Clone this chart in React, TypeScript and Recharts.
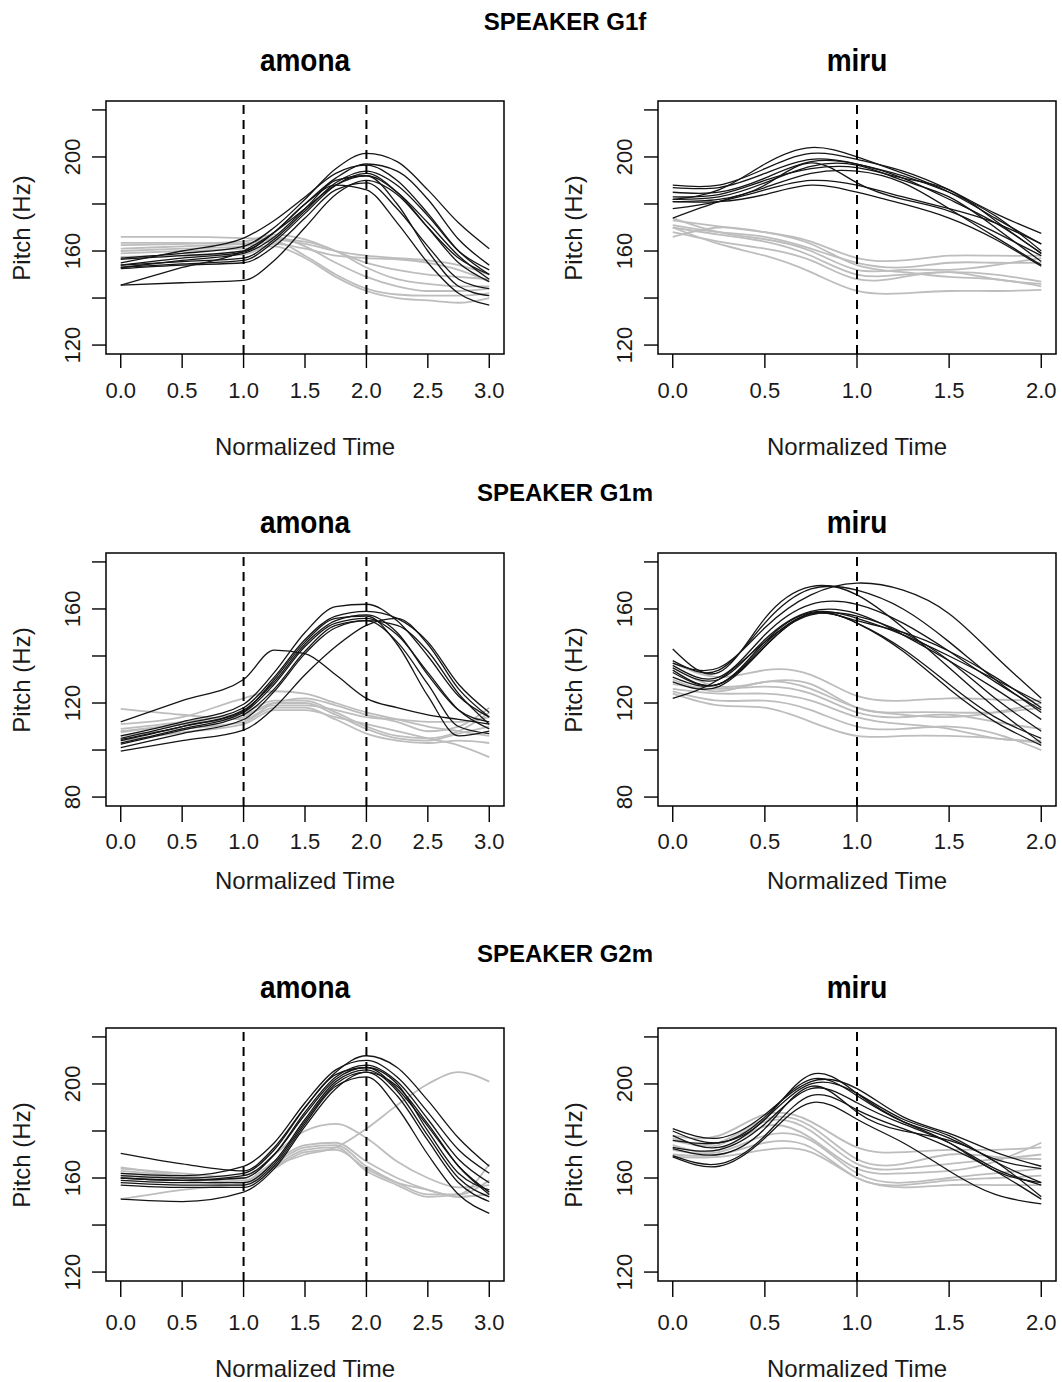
import React from 'react';
import {
  LineChart,
  Line,
  XAxis,
  YAxis,
  ReferenceLine,
  ReferenceArea,
} from 'recharts';

// time grids (normalized syllable time)
const AMONA_T = [0, 0.5, 1, 1.25, 1.5, 1.75, 2, 2.25, 2.5, 2.75, 3];
const MIRU_T = [0, 0.25, 0.5, 0.75, 1, 1.25, 1.5, 1.75, 2];

// ---- speaker G1f ----
const g1fAmonaDark = [
  [157, 159, 162, 170, 182, 195, 201.5, 198, 186, 172, 161],
  [156.5, 158, 160, 168, 180, 191, 197, 194, 182, 165, 154],
  [155, 160, 165.5, 173, 183, 193, 196.5, 190, 176, 160, 150],
  [154, 155.5, 157, 165, 177, 189, 194, 188, 175, 160, 152],
  [153, 154.5, 156, 164, 176, 188, 193, 185, 170, 155, 147],
  [153, 156, 159, 166, 178, 190, 192, 180, 160, 145, 141],
  [152.5, 154, 155, 162, 174, 186, 189, 178, 162, 148, 144],
  [154, 157, 159.5, 168, 180, 188, 186, 172, 155, 142, 137],
  [145.5, 146.5, 147.5, 156, 170, 184, 190, 184, 170, 157, 150],
  [145.5, 153, 160, 168, 178, 188, 192, 185, 172, 158, 148],
];
const g1fAmonaLight = [
  [166, 166, 165.5, 165, 163, 160, 158, 157, 156, 154, 150],
  [162.5, 163, 164, 167, 165, 160, 155, 152, 150, 149, 148],
  [161, 162, 163, 166, 162, 155, 149, 145, 143, 143, 144],
  [160, 161, 162, 164, 158, 150, 144, 141.5, 141, 141, 142],
  [159, 160, 161, 162, 157, 149, 143, 140, 139, 138, 140],
  [157.5, 158, 158.5, 163, 161, 158, 157, 156.5, 155, 152, 147],
  [163.5, 163.5, 163, 165, 164, 160, 153, 148, 146, 145, 145],
];
const g1fMiruDark = [
  [182, 186, 197, 204, 200, 193, 185, 174, 163],
  [188, 188, 195, 201.5, 199, 194, 186, 176, 167.5],
  [187, 187, 193, 199, 197, 192, 185, 175, 160],
  [185, 185, 191, 198, 197, 191, 182, 172, 159],
  [182, 183, 189, 196, 196.5, 190, 183, 170, 155.5],
  [181, 182, 188, 197.5, 189, 182, 177, 168, 158],
  [178, 181, 186, 190, 188, 183, 178, 172, 163],
  [181, 181, 184, 188, 185, 180, 174, 165, 153.5],
  [174, 181, 187, 193, 194, 189, 178, 166, 154],
  [183, 184, 190, 195, 195.5, 191, 186, 173, 159],
];
const g1fMiruLight = [
  [173, 170.5, 168, 164, 157, 156, 158, 158, 158],
  [171, 168, 166, 161, 155, 153, 155, 155, 155],
  [174, 168, 165, 160, 152, 152, 152, 154, 157],
  [170, 167, 164, 158, 150, 150, 151, 150, 147],
  [168, 164, 161, 156, 148, 149, 151, 148, 146],
  [166, 170, 168, 163, 154, 151, 149, 148, 145],
  [170, 163, 158, 151, 143, 142, 143, 143, 143.5],
];

// ---- speaker G1m ----
const g1mAmonaDark = [
  [112, 121, 130, 142.5, 141, 132, 122, 118, 115, 113, 111],
  [106, 112, 119.5, 133, 150, 161, 162, 155, 140, 123, 114],
  [105, 111, 118, 131, 147, 157, 159, 156, 146, 128, 116],
  [104, 110, 117, 129, 145, 155, 157.5, 150, 132, 117, 112],
  [103, 109, 116, 128, 144, 154, 156, 149, 133, 117, 109],
  [102.5, 108.5, 115, 126, 142, 153, 155, 153, 142, 124, 111],
  [101, 107, 113, 125, 141, 152, 155, 146, 128, 110, 107],
  [99.5, 104, 108.5, 118, 132, 144, 153, 156, 145, 126, 114],
  [104.5, 110, 116.5, 130, 146, 156, 157, 145, 123, 106, 108],
];
const g1mAmonaLight = [
  [117.5, 115, 113, 120, 122, 119, 115, 112, 108, 110, 118],
  [111, 114, 122, 125, 124, 120, 116, 113, 110, 108, 106],
  [109, 112, 116, 121, 121, 116, 110, 106, 105, 108, 116],
  [107.5, 111, 114, 120, 120, 115, 109, 105, 104, 107, 110],
  [106, 109, 112, 118, 118, 113, 107, 104, 103, 104, 103],
  [104, 107.5, 111, 117, 117, 114, 111, 108, 105, 102, 97],
  [108, 111, 115, 119, 119, 117, 114, 113, 112, 112, 114],
];
const g1mMiruDark = [
  [137, 135, 152, 166, 171, 168, 158, 140, 122],
  [143, 133, 156, 169.5, 166, 152, 135, 118, 103],
  [138, 134, 154, 168.5, 168, 160, 146, 130, 116],
  [136, 131, 149, 162, 162, 154, 142, 129, 117],
  [134, 128, 146, 158.5, 156, 149, 140, 130, 120],
  [133, 128, 145, 158, 155, 150, 142, 131, 118],
  [131, 128, 144, 158, 154, 143, 128, 114, 105],
  [129, 127, 144, 158, 154, 142, 126, 112, 102],
  [122, 130, 146, 157.5, 157, 150, 138, 122, 108],
  [135, 130, 147, 159, 158, 149, 138, 126, 113],
];
const g1mMiruLight = [
  [137, 131, 134, 132, 123, 121, 122, 121.5, 121],
  [135, 127, 129, 128, 118, 116, 116, 116, 118],
  [130, 125, 129, 126, 118, 115, 114, 116, 120],
  [128, 126, 127, 124, 116, 114, 115, 112, 109],
  [126, 124, 124, 121, 114, 111, 109, 105, 104],
  [125, 121, 121, 117, 110, 109, 110, 107, 100],
  [124, 119, 118, 112, 106, 106, 106, 105, 103],
];

// ---- speaker G2m ----
const g2mAmonaDark = [
  [170.5, 166, 163, 173, 190, 204, 207, 198, 182, 165, 154],
  [162, 161, 165, 175, 192, 206, 210, 203, 188, 172, 162],
  [161, 160, 162, 172, 190, 205, 212, 207, 193, 177, 165],
  [160, 159, 160, 170, 188, 203, 208, 201, 185, 168, 158],
  [159, 158, 158, 167, 185, 201, 206, 197, 178, 160, 152],
  [158, 157, 157, 166, 184, 200, 205, 195, 176, 158, 150],
  [157, 156, 156, 165, 183, 199, 203, 190, 170, 153, 145],
  [151, 150, 154, 164, 182, 198, 205, 199, 183, 165, 153],
  [160, 159, 161, 170, 187, 202, 207, 200, 180, 162, 155],
];
const g2mAmonaLight = [
  [151, 155, 158, 165, 170, 173, 181, 191, 200, 205, 201],
  [164, 162, 160, 170, 180, 183, 177, 167, 160, 156, 157],
  [163, 161, 159, 167, 174, 175, 167, 160, 155, 152, 153],
  [162, 160, 158, 166, 173, 174, 165, 158, 153, 153, 159],
  [164.5, 161, 158, 165, 172, 173, 163, 157, 152, 153, 166],
  [161, 159, 157, 164, 171, 172, 164, 158, 155, 152, 153],
];
const g2mMiruDark = [
  [181, 177, 187, 201, 198, 186, 179, 171, 165],
  [180, 175, 186, 202, 195, 184, 177, 168, 164],
  [178, 173, 185, 200, 196, 185, 178, 167, 158],
  [173, 172, 183, 198, 192, 183, 175, 164, 157],
  [172.5, 170, 181, 199, 188, 180, 176, 167, 152],
  [169.5, 166, 178, 195, 189, 181, 173, 163, 151],
  [169, 165, 177, 192, 185, 175, 163, 153, 149],
  [176, 175, 185, 204, 196, 184, 175, 163, 158],
];
const g2mMiruLight = [
  [178, 178, 187, 184, 173, 171, 172, 172, 173],
  [176, 175, 185, 182, 168, 166, 170, 169, 168],
  [177, 174, 184, 180, 166, 164, 166, 168, 170],
  [174, 172, 182, 177, 164, 162, 163, 167, 175],
  [172, 171, 178, 176, 162, 158, 160, 162, 164],
  [170, 170, 175, 173, 160, 157, 159, 160, 161],
  [169, 169, 172, 171, 160, 156, 157, 157, 157],
];

const AMONA_X_TICKS = [0, 0.5, 1, 1.5, 2, 2.5, 3];
const MIRU_X_TICKS = [0, 0.5, 1, 1.5, 2];
const HZ_TICKS_HIGH = [120, 140, 160, 180, 200, 220];
const HZ_LABELS_HIGH = [120, 160, 200];
const HZ_TICKS_LOW = [80, 100, 120, 140, 160, 180];
const HZ_LABELS_LOW = [80, 120, 160];

const FONT = "'Liberation Sans', Arial, Helvetica, sans-serif";
const BOX_W = 398;
const BOX_H = 253;
const Y_AXIS_W = 106;

const buildRows = (t: number[], dark: number[][], light: number[][]) =>
  t.map((tv, i) => {
    const row: Record<string, number> = { t: tv };
    dark.forEach((s, k) => (row[`d${k}`] = s[i]));
    light.forEach((s, k) => (row[`l${k}`] = s[i]));
    return row;
  });

const YTick = (props: any) => {
  const { x, y, payload, labeled } = props;
  if (!labeled.includes(payload.value)) return null;
  const bx = x - 12;
  return (
    <text
      x={bx}
      y={y}
      transform={`rotate(-90 ${bx} ${y})`}
      textAnchor="middle"
      fontSize={22}
      fill="#1a1a1a"
    >
      {payload.value}
    </text>
  );
};

interface PanelProps {
  left: number;
  boxTop: number;
  kind: 'amona' | 'miru';
  dark: number[][];
  light: number[][];
  yDomain: [number, number];
  yTicks: number[];
  yLabels: number[];
  tickSize: number;
  tickMargin: number;
}

const Panel: React.FC<PanelProps> = ({
  left,
  boxTop,
  kind,
  dark,
  light,
  yDomain,
  yTicks,
  yLabels,
  tickSize,
  tickMargin,
}) => {
  const isAmona = kind === 'amona';
  const t = isAmona ? AMONA_T : MIRU_T;
  const xDomain: [number, number] = isAmona ? [-0.12, 3.12] : [-0.08, 2.08];
  const refs = isAmona ? [1, 2] : [1];
  // amona contours are linear up to the accent, miru ones are smooth splines
  const curve = isAmona ? 'monotone' : 'natural';
  const data = buildRows(t, dark, light);
  const top = 10;

  return (
    <div style={{ position: 'absolute', left, top: boxTop - top }}>
      <LineChart
        width={Y_AXIS_W + BOX_W + 4}
        height={top + BOX_H + 70}
        data={data}
        margin={{ top, right: 4, bottom: 0, left: 0 }}
      >
        <XAxis
          dataKey="t"
          type="number"
          domain={xDomain}
          ticks={isAmona ? AMONA_X_TICKS : MIRU_X_TICKS}
          interval={0}
          allowDataOverflow
          height={70}
          tickSize={tickSize}
          tickMargin={tickMargin}
          axisLine={false}
          tickLine={{ stroke: '#000', strokeWidth: 1.4 }}
          tick={{ fontSize: 22, fill: '#1a1a1a' }}
          tickFormatter={(v: number) => v.toFixed(1)}
        />
        <YAxis
          type="number"
          domain={yDomain}
          ticks={yTicks}
          interval={0}
          allowDataOverflow
          width={Y_AXIS_W}
          tickSize={14}
          tickMargin={0}
          axisLine={false}
          tickLine={{ stroke: '#000', strokeWidth: 1.4 }}
          tick={(p: any) => <YTick {...p} labeled={yLabels} />}
        />
        {light.map((_, k) => (
          <Line
            key={`l${k}`}
            type={curve}
            dataKey={`l${k}`}
            stroke="#bdbdbd"
            strokeWidth={1.8}
            dot={false}
            isAnimationActive={false}
          />
        ))}
        {dark.map((_, k) => (
          <Line
            key={`d${k}`}
            type={curve}
            dataKey={`d${k}`}
            stroke="#151515"
            strokeWidth={1.3}
            dot={false}
            isAnimationActive={false}
          />
        ))}
        {refs.map((r) => (
          <ReferenceLine
            key={r}
            x={r}
            stroke="#000"
            strokeWidth={2}
            strokeDasharray="9 6"
          />
        ))}
        <ReferenceArea
          x1={xDomain[0]}
          x2={xDomain[1]}
          y1={yDomain[0]}
          y2={yDomain[1]}
          fill="none"
          stroke="#000"
          strokeWidth={1.5}
        />
      </LineChart>
    </div>
  );
};

const Label: React.FC<{
  x: number;
  y: number;
  size: number;
  bold?: boolean;
  rotate?: boolean;
  stretch?: number;
  children: React.ReactNode;
}> = ({ x, y, size, bold, rotate, stretch = 1, children }) => (
  <div
    style={{
      position: 'absolute',
      left: x,
      top: y,
      transform: `translate(-50%, -50%)${rotate ? ' rotate(-90deg)' : ''} scaleY(${stretch})`,
      fontSize: size,
      fontWeight: bold ? 700 : 400,
      lineHeight: 1,
      whiteSpace: 'nowrap',
      color: bold ? '#000' : '#1a1a1a',
    }}
  >
    {children}
  </div>
);

const ROWS = [
  {
    speaker: 'SPEAKER G1f',
    speakerY: 22,
    subY: 61,
    boxTop: 101,
    xLabelY: 447,
    yDomain: [116.2, 223.8] as [number, number],
    yTicks: HZ_TICKS_HIGH,
    yLabels: HZ_LABELS_HIGH,
    tickSize: 14,
    tickMargin: 14,
    amona: [g1fAmonaDark, g1fAmonaLight],
    miru: [g1fMiruDark, g1fMiruLight],
  },
  {
    speaker: 'SPEAKER G1m',
    speakerY: 493,
    subY: 523,
    boxTop: 553,
    xLabelY: 881,
    yDomain: [76.2, 183.8] as [number, number],
    yTicks: HZ_TICKS_LOW,
    yLabels: HZ_LABELS_LOW,
    tickSize: 16,
    tickMargin: 11,
    amona: [g1mAmonaDark, g1mAmonaLight],
    miru: [g1mMiruDark, g1mMiruLight],
  },
  {
    speaker: 'SPEAKER G2m',
    speakerY: 954,
    subY: 988,
    boxTop: 1028,
    xLabelY: 1369,
    yDomain: [116.2, 223.8] as [number, number],
    yTicks: HZ_TICKS_HIGH,
    yLabels: HZ_LABELS_HIGH,
    tickSize: 16,
    tickMargin: 17,
    amona: [g2mAmonaDark, g2mAmonaLight],
    miru: [g2mMiruDark, g2mMiruLight],
  },
];

const COLS = [
  { kind: 'amona' as const, left: 0, center: 305, yLabelX: 22 },
  { kind: 'miru' as const, left: 552, center: 857, yLabelX: 574 },
];

export default function App() {
  return (
    <div
      style={{
        position: 'absolute',
        left: 0,
        top: 0,
        width: 1062,
        height: 1382,
        overflow: 'hidden',
        background: '#fff',
        fontFamily: FONT,
      }}
    >
      {ROWS.map((row) => (
        <React.Fragment key={row.speaker}>
          <Label x={565} y={row.speakerY} size={24} bold>
            {row.speaker}
          </Label>
          {COLS.map((col) => {
            const [dark, light] = row[col.kind];
            return (
              <React.Fragment key={col.kind}>
                <Label x={col.center} y={row.subY} size={28} bold stretch={1.15}>
                  {col.kind}
                </Label>
                <Panel
                  left={col.left}
                  boxTop={row.boxTop}
                  kind={col.kind}
                  dark={dark}
                  light={light}
                  yDomain={row.yDomain}
                  yTicks={row.yTicks}
                  yLabels={row.yLabels}
                  tickSize={row.tickSize}
                  tickMargin={row.tickMargin}
                />
                <Label x={col.yLabelX} y={row.boxTop + BOX_H / 2} size={24} rotate>
                  Pitch (Hz)
                </Label>
                <Label x={col.center} y={row.xLabelY} size={24}>
                  Normalized Time
                </Label>
              </React.Fragment>
            );
          })}
        </React.Fragment>
      ))}
    </div>
  );
}
